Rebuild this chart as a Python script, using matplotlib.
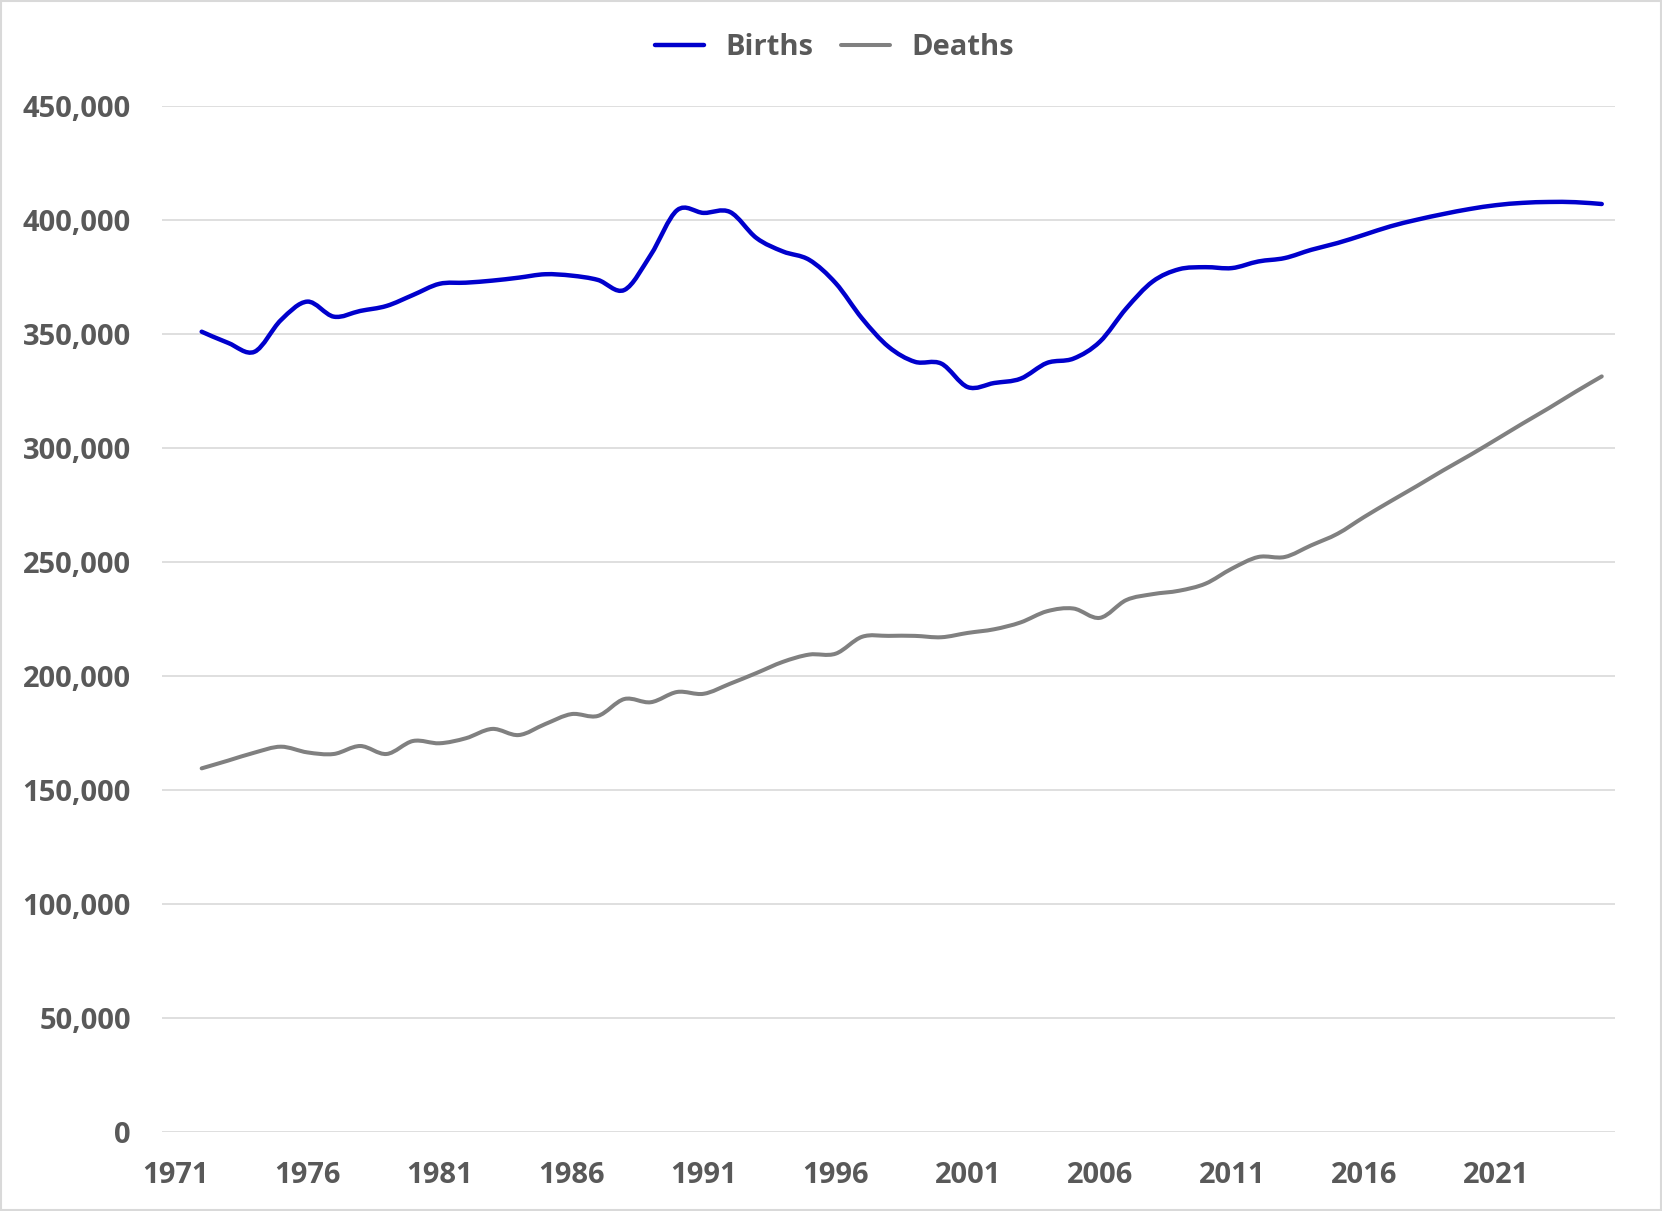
import numpy as np
import matplotlib
matplotlib.use("Agg")
import matplotlib.pyplot as plt
from matplotlib.path import Path
from matplotlib.patches import PathPatch, Rectangle
from matplotlib.lines import Line2D
from matplotlib.ticker import FuncFormatter

# data (1972 - 2025)
years = list(range(1972, 2026))

births = [351000, 346100, 342200, 356100, 364200, 357600, 360100, 362300, 367100, 372000,
          372500, 373400, 374700, 376200, 375600, 373700, 369300, 384700, 404300, 403100,
          403500, 392100, 386200, 382500, 372300, 356800, 344400, 337800, 337000, 326700,
          328500, 330400, 337300, 339200, 346600, 361200, 373000, 378400, 379300, 378900,
          381800, 383300, 386900, 389900, 393500, 397200, 400100, 402600, 404800, 406500,
          407500, 407900, 407800, 407000]

deaths = [159500, 162900, 166400, 169000, 166500, 165800, 169300, 165800, 171500, 170500,
          172700, 176800, 174100, 178900, 183300, 182500, 189900, 188500, 193000, 192200,
          196600, 201300, 206200, 209400, 209800, 217200, 217600, 217600, 217000, 218900,
          220500, 223500, 228400, 229600, 225500, 233300, 235900, 237400, 240500, 247100,
          252200, 252200, 257300, 262400, 269700, 276600, 283300, 290200, 296800, 303700,
          310700, 317500, 324600, 331400]

xticks = [1971, 1976, 1981, 1986, 1991, 1996, 2001, 2006, 2011, 2016, 2021]
yticks = [0, 50000, 100000, 150000, 200000, 250000, 300000, 350000, 400000, 450000]

series_names = ["Births", "Deaths"]
colors = ["#0000CC", "#808080"]
widths = [3.2, 2.9]

text_col = "#595959"
grid_col = "#D9D9D9"

plt.rcParams["font.family"] = ["Open Sans", "DejaVu Sans"]
plt.rcParams["font.weight"] = "bold"
fs = 21


def smooth_path(xs, ys):
	# bezier smoothing like the spreadsheet "smoothed line"
	pts = np.column_stack([xs, ys]).astype(float)
	n = len(pts)
	verts = [pts[0]]
	codes = [Path.MOVETO]
	for i in range(n - 1):
		p0 = pts[i - 1] if i > 0 else pts[i]
		p1 = pts[i]
		p2 = pts[i + 1]
		p3 = pts[i + 2] if i + 2 < n else pts[i + 1]
		c1 = p1 + (p2 - p0) / 6.0
		c2 = p2 - (p3 - p1) / 6.0
		verts += [c1, c2, p2]
		codes += [Path.CURVE4] * 3
	return Path(verts, codes)


fig = plt.figure(figsize=(16.62, 12.11), dpi=100)
ax = fig.add_axes([0.0975, 0.0652, 0.8742, 0.8473])

for data, name, col, lw in zip([births, deaths], series_names, colors, widths):
	patch = PathPatch(smooth_path(years, data), fill=False, edgecolor=col, lw=lw,
		capstyle="round", joinstyle="round", zorder=3)
	ax.add_patch(patch)

ax.set_xlim(1970.5, 2025.5)
ax.set_ylim(0, 450000)
ax.set_xticks(xticks)
ax.set_yticks(yticks)
ax.yaxis.set_major_formatter(FuncFormatter(lambda v, p: "{:,.0f}".format(v)))
ax.grid(axis="y", color=grid_col, lw=1.2)
ax.set_axisbelow(True)
for s in ax.spines.values():
	s.set_visible(False)
ax.tick_params(axis="both", length=0, labelsize=fs, labelcolor=text_col)
ax.tick_params(axis="y", pad=22.5)
ax.tick_params(axis="x", pad=21)
for lab in ax.get_xticklabels() + ax.get_yticklabels():
	lab.set_fontweight("bold")

handles = [Line2D([0], [0], color=c, lw=lw, solid_capstyle="round") for c, lw in zip(colors, widths)]
leg = fig.legend(handles, series_names, loc="center", bbox_to_anchor=(0.502, 0.961), ncol=2,
	frameon=False, fontsize=fs, handlelength=1.7, handletextpad=0.72, columnspacing=0.95)
for t in leg.get_texts():
	t.set_color(text_col)
	t.set_fontweight("bold")

fig.patches.append(Rectangle((0.0008, 0.0008), 0.9984, 0.9984, transform=fig.transFigure,
	fill=False, edgecolor=grid_col, lw=1.5))

plt.savefig("out.png", dpi=100)
